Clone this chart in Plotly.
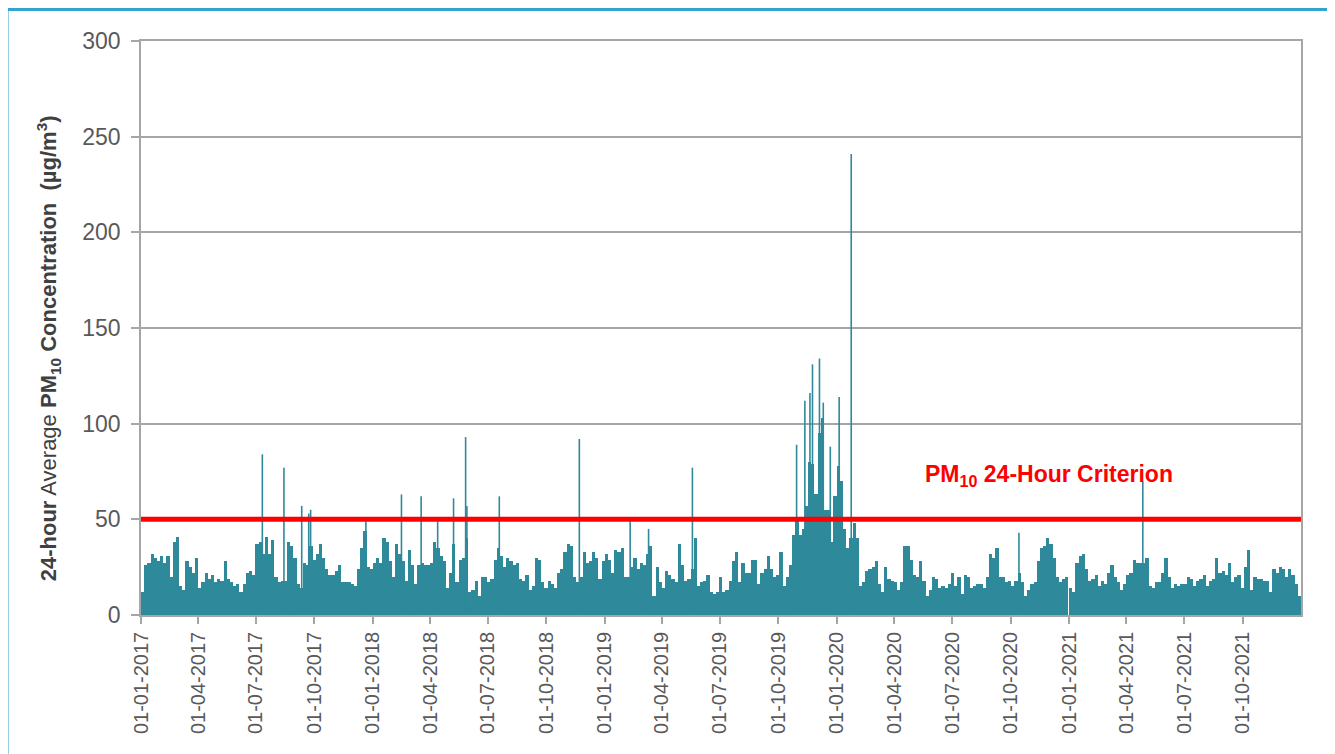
import pandas as pd
import plotly.graph_objects as go

# ---- data (5-day bins) ----
pm10_2017 = [12, 26, 27, 32, 30, 28, 31, 27, 31, 20, 38, 41, 15, 13, 28, 25, 22, 30, 14, 17,
             22, 19, 21, 17, 19, 18, 28, 19, 17, 15, 16, 12, 16, 22, 23, 21, 37, 38, 32, 41,
             32, 39, 20, 17, 18, 18, 38, 36, 30, 16, 14, 27, 26, 36, 29, 32, 37, 30, 24, 21,
             21, 23, 26, 17, 17, 17, 16, 15, 24, 35, 44, 25, 24]
pm10_2018 = [27, 30, 27, 40, 38, 28, 20, 37, 32, 28, 18, 34, 26, 16, 26, 27, 26, 26, 27, 38,
             35, 31, 28, 14, 22, 37, 17, 29, 30, 40, 12, 13, 18, 10, 20, 20, 17, 19, 29, 35,
             31, 25, 30, 28, 26, 27, 19, 18, 21, 13, 15, 30, 29, 17, 14, 18, 16, 14, 22, 24,
             33, 37, 36, 20, 17, 20, 33, 27, 28, 33, 30, 19, 28]
pm10_2019 = [32, 29, 22, 34, 33, 35, 20, 20, 25, 30, 24, 27, 26, 32, 36, 10, 25, 17, 14, 23,
             21, 19, 17, 37, 26, 18, 19, 24, 40, 15, 17, 18, 21, 12, 11, 12, 20, 12, 13, 18,
             28, 33, 17, 27, 22, 22, 29, 29, 16, 22, 24, 31, 24, 20, 21, 33, 15, 20, 26, 42,
             50, 42, 45, 57, 80, 79, 63, 95, 103, 55, 55, 38, 62]
pm10_2020 = [78, 70, 45, 35, 40, 48, 40, 15, 17, 23, 24, 25, 28, 16, 12, 25, 19, 18, 17, 13,
             17, 36, 36, 29, 21, 20, 28, 18, 10, 13, 20, 19, 14, 15, 14, 16, 22, 15, 20, 11,
             21, 20, 14, 15, 16, 16, 14, 20, 32, 30, 35, 20, 20, 17, 18, 15, 18, 22, 17, 10,
             13, 16, 17, 28, 35, 36, 40, 37, 30, 20, 17, 19, 20]
pm10_2021 = [14, 12, 27, 31, 32, 24, 18, 19, 21, 15, 18, 16, 22, 26, 20, 17, 13, 16, 21, 22,
             29, 27, 27, 27, 30, 15, 14, 17, 17, 22, 30, 20, 14, 16, 15, 16, 16, 20, 19, 15,
             18, 19, 21, 15, 18, 19, 30, 22, 23, 21, 27, 17, 20, 21, 14, 25, 34, 13, 20, 19,
             19, 18, 18, 12, 24, 22, 25, 24, 20, 24, 21, 16, 10]

# single-day peaks
spike_dates = ["2017-07-11", "2017-08-14", "2017-09-11", "2017-09-22", "2017-09-25",
               "2017-12-21", "2018-02-15", "2018-03-18", "2018-04-13", "2018-05-08",
               "2018-05-27", "2018-05-29", "2018-07-19", "2018-11-22", "2019-02-10",
               "2019-03-11", "2019-05-19", "2019-10-30", "2019-11-12", "2019-11-20",
               "2019-11-24", "2019-12-05", "2019-12-11", "2019-12-22", "2020-01-05",
               "2020-01-24", "2020-10-14", "2021-04-27"]
spike_values = [84, 77, 57, 53, 55,
                49, 63, 62, 49, 61,
                93, 57, 62, 92, 49,
                45, 77, 89, 112, 116,
                131, 134, 111, 88, 114,
                241, 43, 70]

tick_dates = ["2017-01-01", "2017-04-01", "2017-07-01", "2017-10-01",
              "2018-01-01", "2018-04-01", "2018-07-01", "2018-10-01",
              "2019-01-01", "2019-04-01", "2019-07-01", "2019-10-01",
              "2020-01-01", "2020-04-01", "2020-07-01", "2020-10-01",
              "2021-01-01", "2021-04-01", "2021-07-01", "2021-10-01"]
tick_labels = [pd.Timestamp(d).strftime("%d-%m-%Y") for d in tick_dates]

criterion = 50
criterion_label = "<b>PM<sub>10</sub> 24-Hour Criterion</b>"
y_title = "<b>24-hour</b> Average <b>PM<sub>10</sub> Concentration  (µg/m<sup>3</sup>)</b>"

TEAL = "#2e8a9a"
GRID = "#a6a6a6"
FONT = "Liberation Sans, Arial, sans-serif"

series = {2017: pm10_2017, 2018: pm10_2018, 2019: pm10_2019, 2020: pm10_2020, 2021: pm10_2021}
bx, by = [], []
for yr, vals in series.items():
    start = pd.Timestamp(f"{yr}-01-01")
    for i, v in enumerate(vals):
        bx.append(start + pd.Timedelta(hours=(5 * i + 2.5) * 24))
        by.append(v)

fig = go.Figure()
fig.add_trace(go.Bar(x=bx, y=by, width=5 * 86400000,
                     marker=dict(color=TEAL, line=dict(width=0)), hoverinfo="skip"))
sx, sy = [], []
for d, v in zip(spike_dates, spike_values):
    sx += [d, d, None]
    sy += [0, v, None]
fig.add_trace(go.Scatter(x=sx, y=sy, mode="lines", line=dict(color=TEAL, width=1.6),
                         hoverinfo="skip"))

fig.add_shape(type="line", xref="paper", x0=0, x1=1, yref="y", y0=criterion, y1=criterion,
              line=dict(color="#ff0000", width=5))
fig.add_shape(type="rect", xref="paper", yref="paper", x0=-0.1155, x1=1.025, y0=-0.35, y1=1.055,
              line=dict(color="#35a3cf", width=3), fillcolor="rgba(0,0,0,0)")

fig.add_annotation(text=criterion_label, xref="paper", x=0.674, xanchor="left",
                   yref="y", y=72.7, yanchor="middle", showarrow=False,
                   font=dict(family=FONT, size=23, color="#ff0000"))
fig.add_annotation(text=y_title, xref="paper", x=-0.08, yref="paper", y=0.465,
                   textangle=-90, showarrow=False, xanchor="center", yanchor="middle",
                   font=dict(family=FONT, size=22, color="#404040"))

fig.update_layout(
    width=1328, height=747,
    margin=dict(l=133, r=35, t=33, b=140),
    paper_bgcolor="white", plot_bgcolor="white",
    showlegend=False, bargap=0,
    font=dict(family=FONT, color="#595959"),
    xaxis=dict(type="date", range=["2017-01-01", "2022-01-01"],
               tickvals=tick_dates, ticktext=tick_labels,
               tickangle=-90, tickfont=dict(size=20, color="#595959"),
               showgrid=False, showline=True, linecolor=GRID, linewidth=1.5, mirror=True,
               ticks="outside", ticklen=7, tickcolor=GRID, tickwidth=1.5, zeroline=False),
    yaxis=dict(range=[0, 300], dtick=50, tickfont=dict(size=23, color="#595959"),
               ticklabelstandoff=6,
               showgrid=True, gridcolor=GRID, gridwidth=1.5,
               showline=True, linecolor=GRID, linewidth=1.5, mirror=True,
               ticks="outside", ticklen=8, tickcolor=GRID, tickwidth=1.5, zeroline=False),
)

fig.write_html("out.html")
